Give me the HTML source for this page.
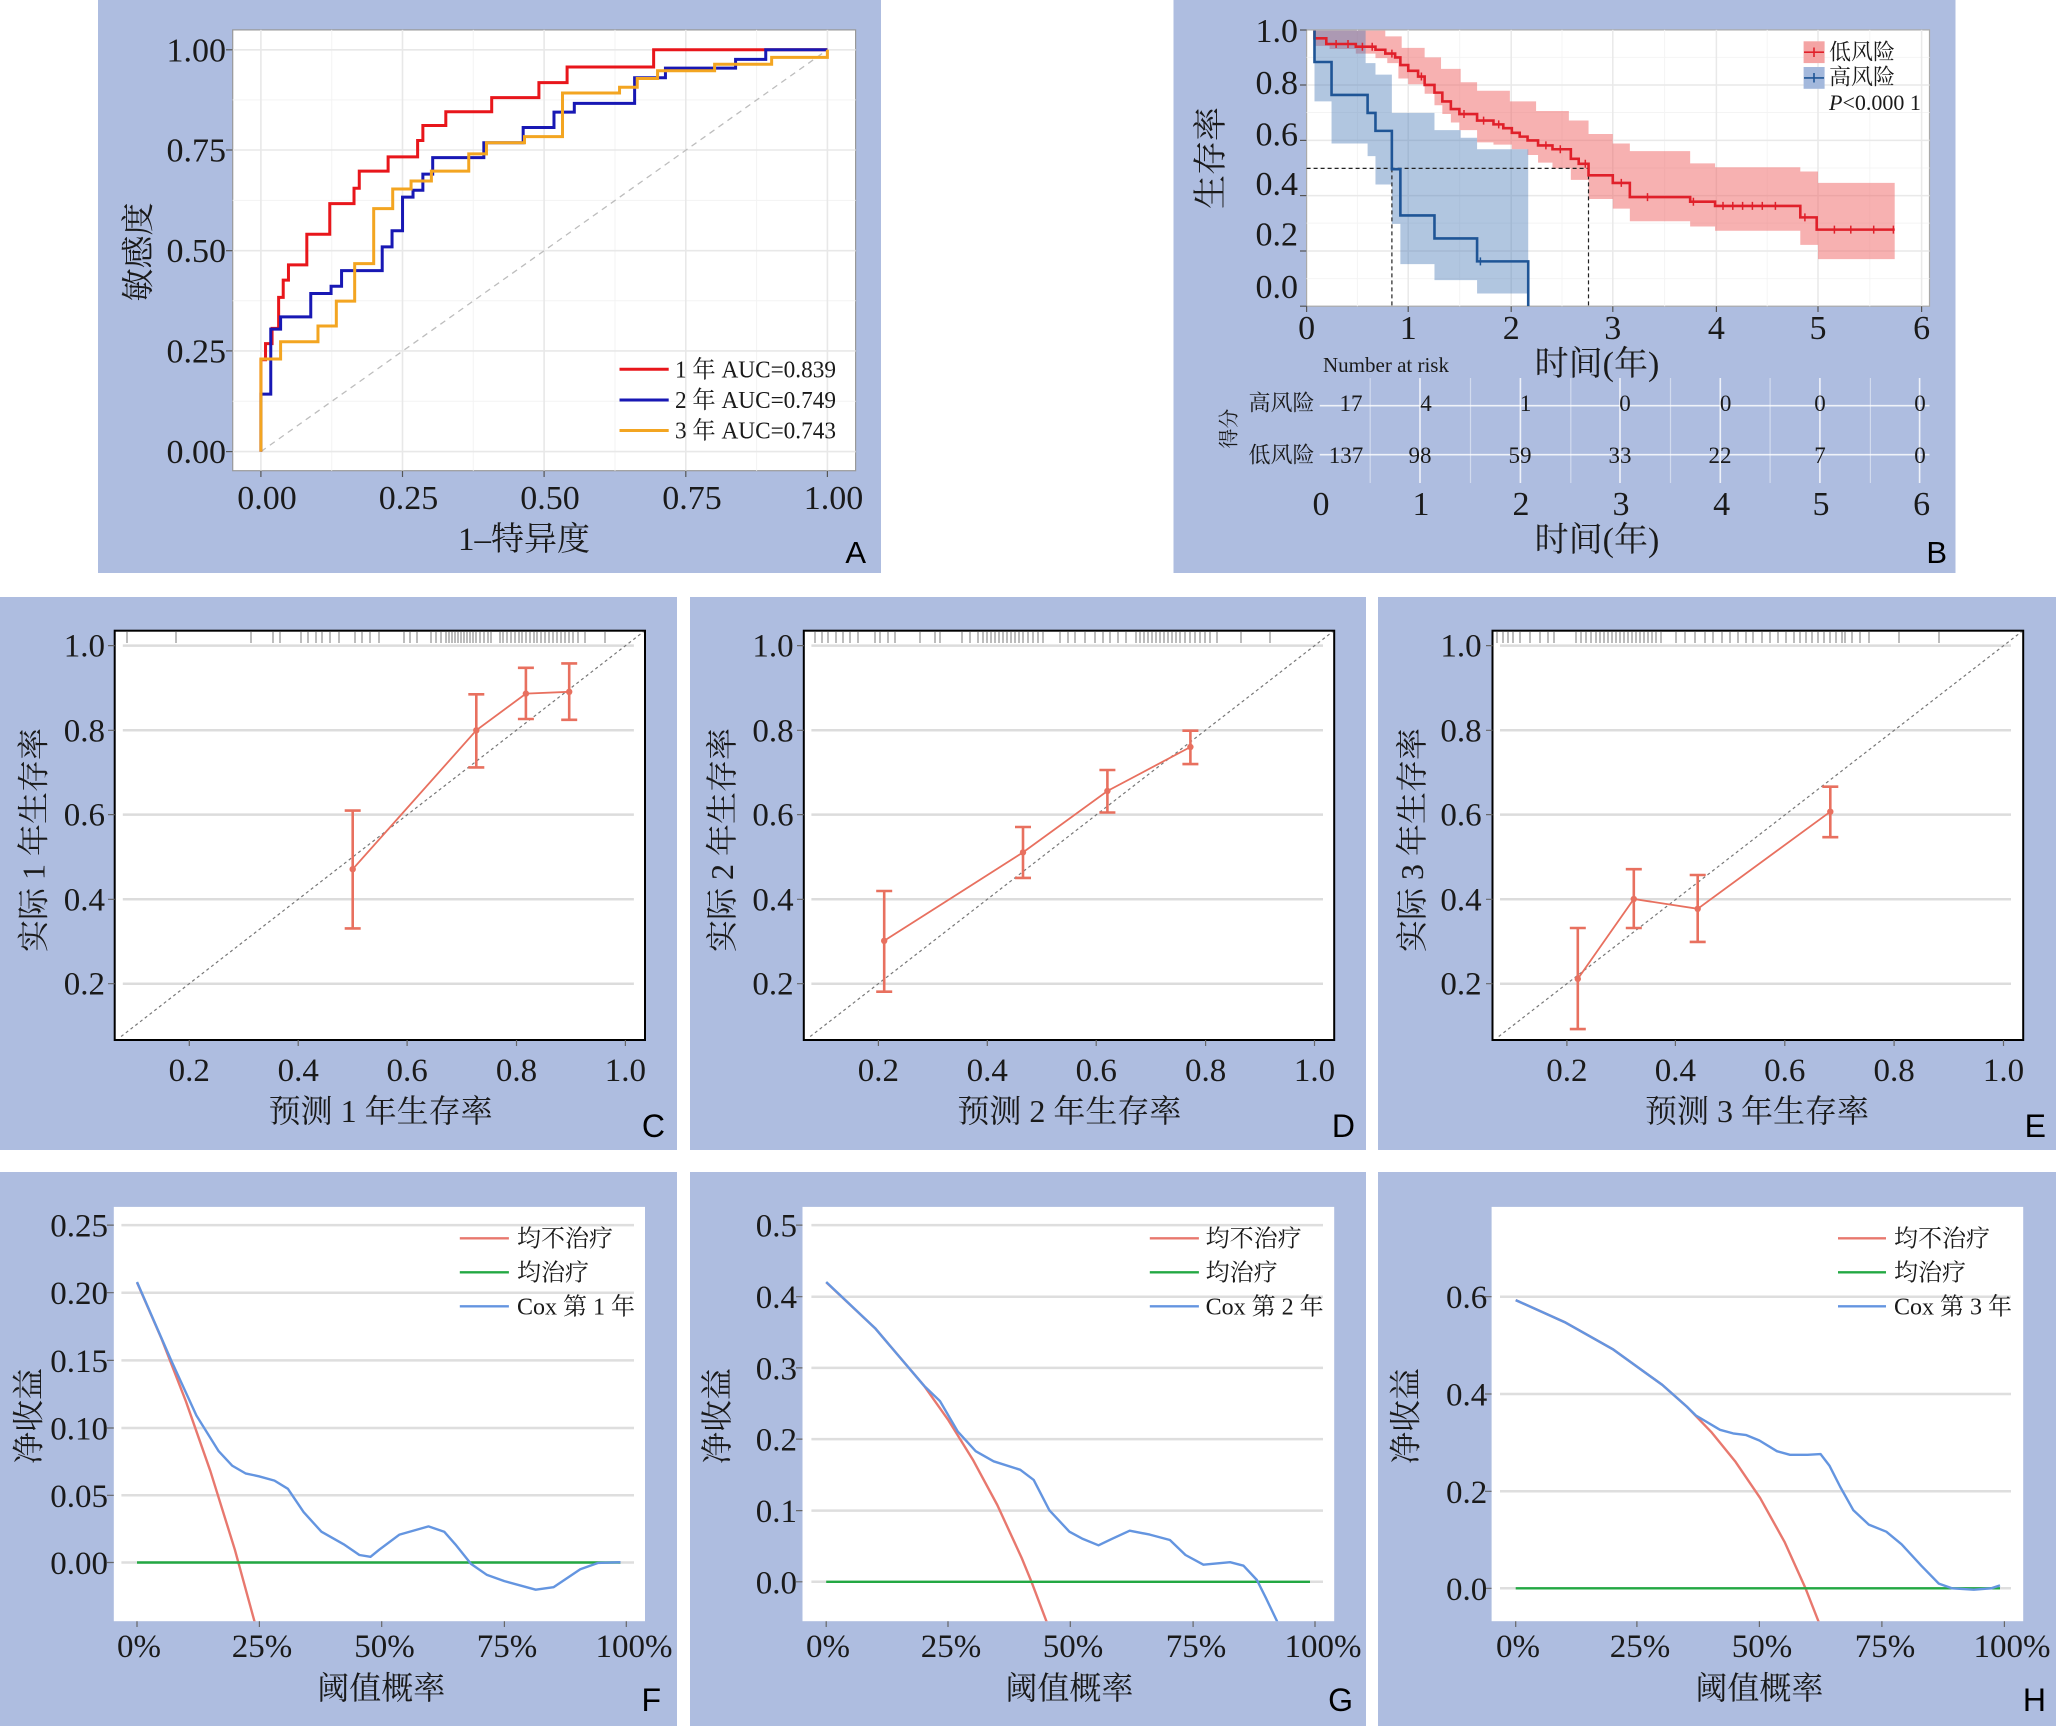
<!DOCTYPE html>
<html><head><meta charset="utf-8"><style>
html,body{margin:0;padding:0;background:#fff;}
svg{display:block;}
text{font-family:"Liberation Serif","Noto Serif CJK SC",serif;fill:#1a1a1a;}
text.lbl{font-family:"Liberation Sans",sans-serif;fill:#000;}
.ns{vector-effect:non-scaling-stroke;}
</style></head><body>
<svg width="2056" height="1726" viewBox="0 0 2056 1726" xmlns="http://www.w3.org/2000/svg">
<defs>
<clipPath id="cF"><rect x="113.8" y="1206.9" width="531.2" height="414.3"/></clipPath>
<clipPath id="cG"><rect x="802.5" y="1206.9" width="531.7" height="414.3"/></clipPath>
<clipPath id="cH"><rect x="1491.6" y="1206.9" width="531.6" height="414.3"/></clipPath>
</defs>
<!-- backgrounds -->
<g fill="#aebde0">
<rect x="98" y="0" width="783" height="573"/>
<rect x="1173.5" y="0" width="782" height="573"/>
<rect x="0" y="597" width="677" height="553"/>
<rect x="690" y="597" width="676" height="553"/>
<rect x="1378" y="597" width="678" height="553"/>
<rect x="0" y="1172" width="677" height="554"/>
<rect x="690" y="1172" width="676" height="554"/>
<rect x="1378" y="1172" width="678" height="554"/>
</g>

<!-- ================= Panel A ================= -->
<rect x="232.7" y="29.9" width="622.9" height="440.8" fill="#fff" stroke="#999" stroke-width="1.2"/>
<g stroke="#f3f3f3" stroke-width="1">
<line x1="232.7" x2="855.6" y1="99.9" y2="99.9"/><line x1="232.7" x2="855.6" y1="200.4" y2="200.4"/>
<line x1="232.7" x2="855.6" y1="300.8" y2="300.8"/><line x1="232.7" x2="855.6" y1="401.3" y2="401.3"/>
<line y1="29.9" y2="470.7" x1="331.7" x2="331.7"/><line y1="29.9" y2="470.7" x1="473.3" x2="473.3"/>
<line y1="29.9" y2="470.7" x1="615" x2="615"/><line y1="29.9" y2="470.7" x1="756.6" x2="756.6"/>
</g>
<g stroke="#e8e8e8" stroke-width="1.6">
<line x1="232.7" x2="855.6" y1="49.8" y2="49.8"/><line x1="232.7" x2="855.6" y1="150" y2="150"/>
<line x1="232.7" x2="855.6" y1="250.7" y2="250.7"/><line x1="232.7" x2="855.6" y1="350.9" y2="350.9"/>
<line x1="232.7" x2="855.6" y1="451.6" y2="451.6"/>
<line y1="29.9" y2="470.7" x1="260.9" x2="260.9"/><line y1="29.9" y2="470.7" x1="402.5" x2="402.5"/>
<line y1="29.9" y2="470.7" x1="544.1" x2="544.1"/><line y1="29.9" y2="470.7" x1="685.8" x2="685.8"/>
<line y1="29.9" y2="470.7" x1="827.4" x2="827.4"/>
</g>
<g stroke="#555" stroke-width="1.2">
<line x1="226" x2="232.7" y1="49.8" y2="49.8"/><line x1="226" x2="232.7" y1="150" y2="150"/>
<line x1="226" x2="232.7" y1="250.7" y2="250.7"/><line x1="226" x2="232.7" y1="350.9" y2="350.9"/>
<line x1="226" x2="232.7" y1="451.6" y2="451.6"/>
<line y1="470.7" y2="477" x1="260.9" x2="260.9"/><line y1="470.7" y2="477" x1="402.5" x2="402.5"/>
<line y1="470.7" y2="477" x1="544.1" x2="544.1"/><line y1="470.7" y2="477" x1="685.8" x2="685.8"/>
<line y1="470.7" y2="477" x1="827.4" x2="827.4"/>
</g>
<line x1="260.9" y1="451.6" x2="827.4" y2="49.8" stroke="#bdbdbd" stroke-width="1.3" stroke-dasharray="6 5"/>
<g transform="scale(0.6556 0.3827)" fill="none" stroke-width="3" stroke-linejoin="miter">
<path class="ns" stroke="#e8161b" d="M398,1180 V940 H405 V898 H415 V858 H425 V777 H432 V732 H440 V692 H468 V612 H503 V532 H540 V492 H548 V447 H592 V410 H637 V367 H645 V328 H680 V292 H750 V255 H822 V216 H865 V175 H997 V130 H1262"/>
<path class="ns" stroke="#1818b4" d="M398,1180 V1030 H413 V860 H428 V828 H474 V767 H505 V748 H521 V707 H583 V645 H598 V603 H614 V515 H630 V497 H645 V455 H660 V412 H738 V373 H798 V333 H845 V293 H876 V270 H968 V203 H1015 V178 H1122 V155 H1168 V130 H1262"/>
<path class="ns" stroke="#f3a521" d="M398,1180 V938 H428 V893 H485 V852 H513 V787 H541 V689 H570 V545 H599 V494 H627 V473 H658 V447 H715 V402 H742 V373 H800 V357 H858 V243 H945 V228 H972 V205 H1003 V185 H1090 V168 H1177 V150 H1262 V130"/>
</g>
<g font-size="34" text-anchor="end">
<text x="226" y="61.3">1.00</text><text x="226" y="161.5">0.75</text><text x="226" y="262.2">0.50</text>
<text x="226" y="362.4">0.25</text><text x="226" y="463.1">0.00</text>
</g>
<g font-size="34" text-anchor="middle">
<text x="267" y="509">0.00</text><text x="408.5" y="509">0.25</text><text x="550" y="509">0.50</text>
<text x="692" y="509">0.75</text><text x="833.5" y="509">1.00</text>
</g>
<text x="524" y="550" font-size="33" text-anchor="middle">1–特异度</text>
<text transform="translate(149.5 252) rotate(-90)" font-size="33" text-anchor="middle">敏感度</text>
<g stroke-width="3">
<line x1="619.5" x2="668.7" y1="369.3" y2="369.3" stroke="#e8161b"/>
<line x1="619.5" x2="668.7" y1="400" y2="400" stroke="#1818b4"/>
<line x1="619.5" x2="668.7" y1="430.5" y2="430.5" stroke="#f3a521"/>
</g>
<g font-size="24">
<text x="675" y="377.5" textLength="161" lengthAdjust="spacingAndGlyphs">1 年 AUC=0.839</text>
<text x="675" y="408.2" textLength="161" lengthAdjust="spacingAndGlyphs">2 年 AUC=0.749</text>
<text x="675" y="438.7" textLength="161" lengthAdjust="spacingAndGlyphs">3 年 AUC=0.743</text>
</g>
<text class="lbl" x="866" y="563" font-size="31" text-anchor="end">A</text>

<!-- ================= Panel B ================= -->
<rect x="1306.6" y="29.9" width="622.9" height="276.3" fill="#fff" stroke="#aaa" stroke-width="1.2"/>
<g stroke="#f4f4f4" stroke-width="1">
<line x1="1306.6" x2="1929.5" y1="57.4" y2="57.4"/><line x1="1306.6" x2="1929.5" y1="112.5" y2="112.5"/>
<line x1="1306.6" x2="1929.5" y1="168" y2="168"/><line x1="1306.6" x2="1929.5" y1="223.1" y2="223.1"/>
<line x1="1306.6" x2="1929.5" y1="278.6" y2="278.6"/>
<line y1="29.9" y2="306.2" x1="1357.4" x2="1357.4"/><line y1="29.9" y2="306.2" x1="1459.7" x2="1459.7"/>
<line y1="29.9" y2="306.2" x1="1562" x2="1562"/><line y1="29.9" y2="306.2" x1="1664.6" x2="1664.6"/>
<line y1="29.9" y2="306.2" x1="1767.2" x2="1767.2"/><line y1="29.9" y2="306.2" x1="1869.8" x2="1869.8"/>
</g>
<g stroke="#e9e9e9" stroke-width="1.5">
<line x1="1306.6" x2="1929.5" y1="85" y2="85"/><line x1="1306.6" x2="1929.5" y1="140.4" y2="140.4"/>
<line x1="1306.6" x2="1929.5" y1="195.6" y2="195.6"/><line x1="1306.6" x2="1929.5" y1="251" y2="251"/>
<line y1="29.9" y2="306.2" x1="1408.2" x2="1408.2"/><line y1="29.9" y2="306.2" x1="1511.2" x2="1511.2"/>
<line y1="29.9" y2="306.2" x1="1612.8" x2="1612.8"/><line y1="29.9" y2="306.2" x1="1716.4" x2="1716.4"/>
<line y1="29.9" y2="306.2" x1="1818" x2="1818" /><line y1="29.9" y2="306.2" x1="1921.6" x2="1921.6"/>
</g>
<g transform="translate(1028 0) scale(0.6556 0.3827)">
<path fill="#f06464" fill-opacity="0.5" d="M437,80 H545 V95 H570 V125 H605 V150 H630 V180 H660 V215 H685 V237 H735 V265 H775 V290 H825 V315 H855 V350 H892 V375 H918 V395 H1010 V427 H1048 V437 H1178 V448 H1205 V478 H1322 V677 H1205 V640 H1178 V603 H1048 V592 H1010 V578 H918 V545 H892 V520 H855 V470 H828 V440 H800 V425 H778 V405 H762 V390 H738 V378 H710 V372 H685 V340 H658 V320 H645 V298 H632 V275 H620 V245 H605 V220 H580 V205 H565 V165 H548 V152 H530 V140 H500 V128 H460 V120 H437 Z"/>
<path fill="#4678b4" fill-opacity="0.42" d="M437,80 H515 V165 H530 V195 H555 V295 H620 V340 H660 V360 H685 V390 H763 V767 H685 V732 H620 V690 H568 V585 H555 V482 H530 V408 H518 V375 H463 V265 H437 Z"/>
</g>
<g stroke="#222" stroke-width="1.2" stroke-dasharray="4 3" fill="none">
<line x1="1306.6" y1="168.4" x2="1588.5" y2="168.4"/>
<line x1="1391.9" y1="168.4" x2="1391.9" y2="306.2"/>
<line x1="1588.5" y1="168.4" x2="1588.5" y2="306.2"/>
</g>
<g transform="translate(1028 0) scale(0.6556 0.3827)" fill="none" stroke-width="2.6">
<path class="ns" stroke="#e0202a" d="M437,80 V100 H455 V115 H500 V122 H530 V130 H545 V140 H560 V150 H568 V170 H580 V185 H595 V200 H605 V222 H620 V242 H632 V265 H645 V285 H658 V298 H685 V315 H710 V325 H725 V335 H738 V347 H750 V357 H762 V367 H778 V380 H800 V390 H828 V415 H840 V428 H855 V458 H892 V478 H918 V515 H1010 V527 H1048 V538 H1178 V568 H1203 V600 H1322"/>
<path class="ns" stroke="#1f5596" d="M437,80 V162 H463 V248 H518 V295 H530 V342 H555 V442 H568 V563 H620 V623 H685 V683 H763 V800"/>
</g>
<g stroke="#e0202a" stroke-width="1.5">
<path d="M1336.1,40 V48 M1348,40 V48 M1362.4,42.7 V50.7 M1372.2,42.7 V50.7 M1391.9,49.6 V57.6 M1421.4,72.5 V80.5 M1464,110 V118 M1483.6,116.6 V124.6 M1498.7,120.4 V128.4 M1545.9,141.4 V149.4 M1560.3,145.3 V153.3 M1585.3,159.8 V167.8 M1621.3,178.9 V186.9 M1647.5,193.1 V201.1 M1693.4,197.7 V205.7 M1723,201.9 V209.9 M1732.8,201.9 V209.9 M1742.6,201.9 V209.9 M1752.4,201.9 V209.9 M1762.3,201.9 V209.9 M1775.4,201.9 V209.9 M1804.9,213.4 V221.4 M1834.4,225.6 V233.6 M1850.8,225.6 V233.6 M1873.7,225.6 V233.6 M1893.4,225.6 V233.6"/>
</g>
<path d="M1480.4,257.4 V265.4" stroke="#1f5596" stroke-width="1.5"/>
<g stroke="#555" stroke-width="1.2">
<line x1="1300" x2="1306.6" y1="85" y2="85"/><line x1="1300" x2="1306.6" y1="140.4" y2="140.4"/>
<line x1="1300" x2="1306.6" y1="195.6" y2="195.6"/><line x1="1300" x2="1306.6" y1="251" y2="251"/>
<line x1="1300" x2="1306.6" y1="306.2" y2="306.2"/><line x1="1300" x2="1306.6" y1="30" y2="30"/>
<line y1="306.2" y2="312" x1="1306.6" x2="1306.6"/><line y1="306.2" y2="312" x1="1408.2" x2="1408.2"/>
<line y1="306.2" y2="312" x1="1511.2" x2="1511.2"/><line y1="306.2" y2="312" x1="1612.8" x2="1612.8"/>
<line y1="306.2" y2="312" x1="1716.4" x2="1716.4"/><line y1="306.2" y2="312" x1="1818" x2="1818"/>
<line y1="306.2" y2="312" x1="1921.6" x2="1921.6"/>
</g>
<!-- legend B -->
<rect x="1803.6" y="41.3" width="21" height="21.8" fill="#f4a4a4"/>
<rect x="1803.6" y="67" width="21" height="21.8" fill="#a3b8dc"/>
<path d="M1804,52.2 H1824 M1814,47.5 V57" stroke="#e0202a" stroke-width="1.6"/>
<path d="M1804,77.9 H1824 M1814,73 V82.5" stroke="#1f5596" stroke-width="1.6"/>
<g font-size="22">
<text x="1829" y="59.5">低风险</text>
<text x="1829" y="84.5">高风险</text>
<text x="1829" y="110"><tspan font-style="italic">P</tspan>&lt;0.000 1</text>
</g>
<g font-size="34" text-anchor="end">
<text x="1298" y="42">1.0</text><text x="1298" y="94">0.8</text><text x="1298" y="145.5">0.6</text>
<text x="1298" y="195">0.4</text><text x="1298" y="245.7">0.2</text><text x="1298" y="297.8">0.0</text>
</g>
<g font-size="34" text-anchor="middle">
<text x="1306.6" y="339">0</text><text x="1408.2" y="339">1</text><text x="1511.2" y="339">2</text>
<text x="1612.8" y="339">3</text><text x="1716.4" y="339">4</text><text x="1818" y="339">5</text><text x="1921.6" y="339">6</text>
</g>
<text x="1597" y="375" font-size="34" text-anchor="middle">时间(年)</text>
<text transform="translate(1222 158) rotate(-90)" font-size="34" text-anchor="middle">生存率</text>
<!-- risk table -->
<g stroke="#ffffff" stroke-opacity="0.45" stroke-width="1.2">
<line y1="378" y2="483" x1="1370.2" x2="1370.2"/><line y1="378" y2="483" x1="1470.5" x2="1470.5"/>
<line y1="378" y2="483" x1="1570.8" x2="1570.8"/><line y1="378" y2="483" x1="1670.5" x2="1670.5"/>
<line y1="378" y2="483" x1="1770.1" x2="1770.1"/><line y1="378" y2="483" x1="1870.4" x2="1870.4"/>
</g>
<g stroke="#ffffff" stroke-opacity="0.8" stroke-width="1.6">
<line y1="378" y2="483" x1="1420" x2="1420"/><line y1="378" y2="483" x1="1520.4" x2="1520.4"/>
<line y1="378" y2="483" x1="1620" x2="1620"/><line y1="378" y2="483" x1="1720.3" x2="1720.3"/>
<line y1="378" y2="483" x1="1819.9" x2="1819.9"/><line y1="378" y2="483" x1="1919.6" x2="1919.6"/>
<line x1="1319.7" x2="1929.5" y1="405.7" y2="405.7"/><line x1="1319.7" x2="1929.5" y1="454.7" y2="454.7"/>
</g>
<text x="1323" y="372" font-size="21">Number at risk</text>
<g font-size="22" text-anchor="end">
<text x="1314.5" y="410.6">高风险</text>
<text x="1314.5" y="462.6">低风险</text>
</g>
<text transform="translate(1235.5 428.6) rotate(-90)" font-size="20" text-anchor="middle">得分</text>
<g font-size="23" text-anchor="middle">
<text x="1351" y="411">17</text><text x="1426" y="411">4</text><text x="1525.6" y="411">1</text>
<text x="1625" y="411">0</text><text x="1725.6" y="411">0</text><text x="1820" y="411">0</text><text x="1920" y="411">0</text>
<text x="1346" y="463">137</text><text x="1420" y="463">98</text><text x="1520" y="463">59</text>
<text x="1620" y="463">33</text><text x="1720" y="463">22</text><text x="1820" y="463">7</text><text x="1920" y="463">0</text>
</g>
<g font-size="34" text-anchor="middle">
<text x="1321" y="515">0</text><text x="1421" y="515">1</text><text x="1521" y="515">2</text>
<text x="1621" y="515">3</text><text x="1721.6" y="515">4</text><text x="1821" y="515">5</text><text x="1921.6" y="515">6</text>
</g>
<text x="1597" y="551" font-size="34" text-anchor="middle">时间(年)</text>
<text class="lbl" x="1947" y="563" font-size="31" text-anchor="end">B</text>

<!-- ================= Panel C ================= -->
<rect x="114.7" y="630.7" width="530.3" height="409.3" fill="#fff"/>
<g stroke="#dcdcdc" stroke-width="2.5">
<line x1="122.8" x2="633.9" y1="645.6" y2="645.6"/><line x1="122.8" x2="633.9" y1="730.3" y2="730.3"/>
<line x1="122.8" x2="633.9" y1="814.6" y2="814.6"/><line x1="122.8" x2="633.9" y1="899.3" y2="899.3"/>
<line x1="122.8" x2="633.9" y1="983.7" y2="983.7"/>
</g>
<path stroke="#333" stroke-opacity="0.65" stroke-width="1" d="M127,632V643M176,632V643M251,632V643M273,632V643M280,632V643M301,632V643M308,632V643M316,632V643M322,632V643M330,632V643M339,632V643M355,632V643M362,632V643M370,632V643M379,632V643M404,632V643M410,632V643M417,632V643M431,632V643M436,632V643M441,632V643M446,632V643M449,632V643M452,632V643M455,632V643M458,632V643M461,632V643M464,632V643M467,632V643M470,632V643M473,632V643M476,632V643M480,632V643M484,632V643M488,632V643M491,632V643M500,632V643M503,632V643M507,632V643M511,632V643M515,632V643M519,632V643M522,632V643M526,632V643M530,632V643M534,632V643M537,632V643M541,632V643M545,632V643M549,632V643M553,632V643M557,632V643M561,632V643M565,632V643M569,632V643M573,632V643M578,632V643M585,632V643M605,632V643"/>
<line x1="121.1" y1="1036.5" x2="643.5" y2="631.7" stroke="#777" stroke-width="1.2" stroke-dasharray="3 3"/>
<g stroke="#e8705f" fill="none">
<polyline stroke-width="1.8" points="352.7,869.2 476.3,730.3 525.9,693.6 569.2,691.8"/>
<path stroke-width="2.6" d="M352.7,810.6V928.4M344.7,810.6H360.7M344.7,928.4H360.7 M476.3,694.3V767.4M468.3,694.3H484.3M468.3,767.4H484.3 M525.9,667.8V719M517.9,667.8H533.9M517.9,719H533.9 M569.2,663.4V719.8M561.2,663.4H577.2M561.2,719.8H577.2"/>
</g>
<g fill="#e8705f"><circle cx="352.7" cy="869.2" r="3.2"/><circle cx="476.3" cy="730.3" r="3.2"/><circle cx="525.9" cy="693.6" r="3.2"/><circle cx="569.2" cy="691.8" r="3.2"/></g>
<rect x="114.7" y="630.7" width="530.3" height="409.3" fill="none" stroke="#000" stroke-width="2"/>
<g stroke="#666" stroke-width="1.2">
<path d="M108,645.6H114.7M108,730.3H114.7M108,814.6H114.7M108,899.3H114.7M108,983.7H114.7 M189.3,1040V1046M298.2,1040V1046M407.1,1040V1046M516.5,1040V1046M625.4,1040V1046"/>
</g>
<g font-size="33" text-anchor="end">
<text x="105" y="656.6">1.0</text><text x="105" y="741.3">0.8</text><text x="105" y="825.6">0.6</text>
<text x="105" y="910.3">0.4</text><text x="105" y="994.7">0.2</text>
</g>
<g font-size="33" text-anchor="middle">
<text x="189.3" y="1081">0.2</text><text x="298.2" y="1081">0.4</text><text x="407.1" y="1081">0.6</text>
<text x="516.5" y="1081">0.8</text><text x="625.4" y="1081">1.0</text>
</g>
<text x="380.6" y="1122" font-size="32" text-anchor="middle">预测 1 年生存率</text>
<text transform="translate(44.5 840) rotate(-90)" font-size="32" text-anchor="middle">实际 1 年生存率</text>
<text class="lbl" x="665" y="1137" font-size="32" text-anchor="end">C</text>

<!-- ================= Panel D ================= -->
<rect x="803.8" y="630.7" width="530.4" height="409.3" fill="#fff"/>
<g stroke="#dcdcdc" stroke-width="2.5">
<line x1="811.4" x2="1323" y1="645.6" y2="645.6"/><line x1="811.4" x2="1323" y1="730.3" y2="730.3"/>
<line x1="811.4" x2="1323" y1="814.6" y2="814.6"/><line x1="811.4" x2="1323" y1="899.3" y2="899.3"/>
<line x1="811.4" x2="1323" y1="983.7" y2="983.7"/>
</g>
<path stroke="#333" stroke-opacity="0.65" stroke-width="1" d="M815,632V643M822,632V643M828,632V643M836,632V643M843,632V643M850,632V643M858,632V643M875,632V643M880,632V643M888,632V643M895,632V643M920,632V643M935,632V643M940,632V643M962,632V643M970,632V643M978,632V643M983,632V643M987,632V643M991,632V643M995,632V643M999,632V643M1003,632V643M1007,632V643M1011,632V643M1015,632V643M1019,632V643M1023,632V643M1028,632V643M1033,632V643M1038,632V643M1043,632V643M1060,632V643M1068,632V643M1075,632V643M1085,632V643M1095,632V643M1103,632V643M1110,632V643M1118,632V643M1126,632V643M1136,632V643M1140,632V643M1144,632V643M1148,632V643M1152,632V643M1156,632V643M1160,632V643M1164,632V643M1168,632V643M1172,632V643M1176,632V643M1180,632V643M1185,632V643M1190,632V643M1195,632V643M1200,632V643M1205,632V643M1210,632V643M1217,632V643M1241,632V643M1270,632V643"/>
<line x1="810.2" y1="1036.5" x2="1332.6" y2="631.7" stroke="#777" stroke-width="1.2" stroke-dasharray="3 3"/>
<g stroke="#e8705f" fill="none">
<polyline stroke-width="1.8" points="884.2,940.8 1023,852.4 1107.4,791 1190.4,747"/>
<path stroke-width="2.6" d="M884.2,891V991.7M876.2,891H892.2M876.2,991.7H892.2 M1023,827V877.9M1015,827H1031M1015,877.9H1031 M1107.4,770V812.5M1099.4,770H1115.4M1099.4,812.5H1115.4 M1190.4,730.7V764.1M1182.4,730.7H1198.4M1182.4,764.1H1198.4"/>
</g>
<g fill="#e8705f"><circle cx="884.2" cy="940.8" r="3.2"/><circle cx="1023" cy="852.4" r="3.2"/><circle cx="1107.4" cy="791" r="3.2"/><circle cx="1190.4" cy="747" r="3.2"/></g>
<rect x="803.8" y="630.7" width="530.4" height="409.3" fill="none" stroke="#000" stroke-width="2"/>
<g stroke="#666" stroke-width="1.2">
<path d="M797,645.6H803.8M797,730.3H803.8M797,814.6H803.8M797,899.3H803.8M797,983.7H803.8 M878.4,1040V1046M987.3,1040V1046M1096.2,1040V1046M1205.6,1040V1046M1314.5,1040V1046"/>
</g>
<g font-size="33" text-anchor="end">
<text x="793.6" y="656.6">1.0</text><text x="793.6" y="741.3">0.8</text><text x="793.6" y="825.6">0.6</text>
<text x="793.6" y="910.3">0.4</text><text x="793.6" y="994.7">0.2</text>
</g>
<g font-size="33" text-anchor="middle">
<text x="878.4" y="1081">0.2</text><text x="987.3" y="1081">0.4</text><text x="1096.2" y="1081">0.6</text>
<text x="1205.6" y="1081">0.8</text><text x="1314.5" y="1081">1.0</text>
</g>
<text x="1069.4" y="1122" font-size="32" text-anchor="middle">预测 2 年生存率</text>
<text transform="translate(733 840) rotate(-90)" font-size="32" text-anchor="middle">实际 2 年生存率</text>
<text class="lbl" x="1355" y="1137" font-size="32" text-anchor="end">D</text>

<!-- ================= Panel E ================= -->
<rect x="1492.5" y="630.7" width="530.7" height="409.3" fill="#fff"/>
<g stroke="#dcdcdc" stroke-width="2.5">
<line x1="1500" x2="2011" y1="645.6" y2="645.6"/><line x1="1500" x2="2011" y1="730.3" y2="730.3"/>
<line x1="1500" x2="2011" y1="814.6" y2="814.6"/><line x1="1500" x2="2011" y1="899.3" y2="899.3"/>
<line x1="1500" x2="2011" y1="983.7" y2="983.7"/>
</g>
<path stroke="#333" stroke-opacity="0.65" stroke-width="1" d="M1497,632V643M1503,632V643M1508,632V643M1513,632V643M1520,632V643M1530,632V643M1540,632V643M1548,632V643M1554,632V643M1576,632V643M1581,632V643M1586,632V643M1591,632V643M1596,632V643M1600,632V643M1604,632V643M1608,632V643M1612,632V643M1616,632V643M1620,632V643M1624,632V643M1628,632V643M1632,632V643M1636,632V643M1640,632V643M1644,632V643M1648,632V643M1652,632V643M1656,632V643M1661,632V643M1676,632V643M1685,632V643M1695,632V643M1705,632V643M1713,632V643M1722,632V643M1730,632V643M1738,632V643M1746,632V643M1753,632V643M1762,632V643M1770,632V643M1778,632V643M1786,632V643M1794,632V643M1800,632V643M1806,632V643M1812,632V643M1818,632V643M1824,632V643M1830,632V643M1836,632V643M1842,632V643M1845,632V643M1852,632V643M1860,632V643M1869,632V643M1899,632V643M1939,632V643"/>
<line x1="1498.7" y1="1036.5" x2="2021.6" y2="631.7" stroke="#777" stroke-width="1.2" stroke-dasharray="3 3"/>
<g stroke="#e8705f" fill="none">
<polyline stroke-width="1.8" points="1577.8,978.9 1633.8,899 1697.7,908.8 1830.3,811.7"/>
<path stroke-width="2.6" d="M1577.8,928V1029.1M1569.8,928H1585.8M1569.8,1029.1H1585.8 M1633.8,869.2V928M1625.8,869.2H1641.8M1625.8,928H1641.8 M1697.7,875V941.9M1689.7,875H1705.7M1689.7,941.9H1705.7 M1830.3,786.7V837.2M1822.3,786.7H1838.3M1822.3,837.2H1838.3"/>
</g>
<g fill="#e8705f"><circle cx="1577.8" cy="978.9" r="3.2"/><circle cx="1633.8" cy="899" r="3.2"/><circle cx="1697.7" cy="908.8" r="3.2"/><circle cx="1830.3" cy="811.7" r="3.2"/></g>
<rect x="1492.5" y="630.7" width="530.7" height="409.3" fill="none" stroke="#000" stroke-width="2"/>
<g stroke="#666" stroke-width="1.2">
<path d="M1486,645.6H1492.5M1486,730.3H1492.5M1486,814.6H1492.5M1486,899.3H1492.5M1486,983.7H1492.5 M1566.9,1040V1046M1675.4,1040V1046M1784.8,1040V1046M1894.1,1040V1046M2003.5,1040V1046"/>
</g>
<g font-size="33" text-anchor="end">
<text x="1481.6" y="656.6">1.0</text><text x="1481.6" y="741.3">0.8</text><text x="1481.6" y="825.6">0.6</text>
<text x="1481.6" y="910.3">0.4</text><text x="1481.6" y="994.7">0.2</text>
</g>
<g font-size="33" text-anchor="middle">
<text x="1566.9" y="1081">0.2</text><text x="1675.4" y="1081">0.4</text><text x="1784.8" y="1081">0.6</text>
<text x="1894.1" y="1081">0.8</text><text x="2003.5" y="1081">1.0</text>
</g>
<text x="1757" y="1122" font-size="32" text-anchor="middle">预测 3 年生存率</text>
<text transform="translate(1423 840) rotate(-90)" font-size="32" text-anchor="middle">实际 3 年生存率</text>
<text class="lbl" x="2046" y="1137" font-size="32" text-anchor="end">E</text>

<!-- ================= Panel F ================= -->
<rect x="113.8" y="1206.9" width="531.2" height="414.3" fill="#fff"/>
<g stroke="#dedede" stroke-width="2.5">
<line x1="121.4" x2="634" y1="1225.1" y2="1225.1"/><line x1="121.4" x2="634" y1="1292.7" y2="1292.7"/>
<line x1="121.4" x2="634" y1="1360.4" y2="1360.4"/><line x1="121.4" x2="634" y1="1428" y2="1428"/>
<line x1="121.4" x2="634" y1="1495.3" y2="1495.3"/><line x1="121.4" x2="634" y1="1562.5" y2="1562.5"/>
</g>
<g fill="none" stroke-width="2.4" stroke-linejoin="round">
<polyline clip-path="url(#cF)" stroke="#e8786e" points="137,1282.4 161.5,1338.7 185.9,1401.3 210.4,1471.2 234.9,1549.8 259.3,1639"/>
<line x1="137" x2="620.5" y1="1562.5" y2="1562.5" stroke="#23a843"/>
<polyline stroke="#6495e0" points="137,1282 171.9,1362 196.4,1415.5 218.7,1451.2 232.1,1465.6 245.5,1473.4 258.9,1476.3 274.5,1480.6 287.9,1488.8 303.6,1512.1 321.4,1531.7 343.7,1544.3 359.4,1555 370.5,1556.8 379.4,1549.6 399.5,1534.6 428.5,1526.4 444.2,1531.7 455.3,1544.3 471,1563.9 486.6,1574.7 504.4,1581.1 535.7,1589.7 553.5,1587.2 580.3,1569.3 598.2,1562.9 620.5,1562.2"/>
</g>
<g stroke="#666" stroke-width="1.2">
<path d="M107,1225.1H113.8M107,1292.7H113.8M107,1360.4H113.8M107,1428H113.8M107,1495.3H113.8M107,1562.5H113.8 M137,1621.2V1627M259.4,1621.2V1627M381.7,1621.2V1627M504.4,1621.2V1627M626.3,1621.2V1627"/>
</g>
<g stroke-width="2.4">
<line x1="459.8" x2="508.9" y1="1238.3" y2="1238.3" stroke="#e8786e"/>
<line x1="459.8" x2="508.9" y1="1272.3" y2="1272.3" stroke="#23a843"/>
<line x1="459.8" x2="508.9" y1="1306.3" y2="1306.3" stroke="#6495e0"/>
</g>
<g font-size="24">
<text x="517" y="1246.5">均不治疗</text><text x="517" y="1280.5">均治疗</text><text x="517" y="1314.5">Cox 第 1 年</text>
</g>
<g font-size="33" text-anchor="end">
<text x="108" y="1236.6">0.25</text><text x="108" y="1304.2">0.20</text><text x="108" y="1371.9">0.15</text>
<text x="108" y="1439.5">0.10</text><text x="108" y="1506.8">0.05</text><text x="108" y="1574">0.00</text>
</g>
<g font-size="33" text-anchor="middle">
<text x="139" y="1657">0%</text><text x="262" y="1657">25%</text><text x="384.5" y="1657">50%</text>
<text x="507" y="1657">75%</text><text x="634" y="1657">100%</text>
</g>
<text x="381.3" y="1699" font-size="32" text-anchor="middle">阈值概率</text>
<text transform="translate(39.5 1416) rotate(-90)" font-size="32" text-anchor="middle">净收益</text>
<text class="lbl" x="661" y="1711" font-size="32" text-anchor="end">F</text>

<!-- ================= Panel G ================= -->
<rect x="802.5" y="1206.9" width="531.7" height="414.3" fill="#fff"/>
<g stroke="#dedede" stroke-width="2.5">
<line x1="811.4" x2="1323" y1="1225.1" y2="1225.1"/><line x1="811.4" x2="1323" y1="1296.7" y2="1296.7"/>
<line x1="811.4" x2="1323" y1="1367.9" y2="1367.9"/><line x1="811.4" x2="1323" y1="1439.1" y2="1439.1"/>
<line x1="811.4" x2="1323" y1="1510.6" y2="1510.6"/><line x1="811.4" x2="1323" y1="1581.8" y2="1581.8"/>
</g>
<g fill="none" stroke-width="2.4" stroke-linejoin="round">
<polyline clip-path="url(#cG)" stroke="#e8786e" points="826.2,1282.3 875.1,1328.2 924,1385.7 948.4,1420.2 972.8,1459.6 997.3,1505 1021.7,1558 1031.5,1581.8 1046.2,1620.7 1051,1634"/>
<line x1="826.2" x2="1310" y1="1581.8" y2="1581.8" stroke="#23a843"/>
<polyline clip-path="url(#cG)" stroke="#6495e0" points="826.2,1282 875.1,1328.2 924,1385.7 940,1401.1 957.8,1431.6 975.7,1451.2 993.6,1461.3 1020.3,1469.8 1033.7,1479.9 1049.4,1510.3 1069.4,1531.7 1082.8,1538.9 1098.5,1545.3 1111.8,1538.9 1129.7,1530.7 1149.8,1534.6 1169.9,1540 1185.5,1555 1203.4,1564.7 1230.1,1562.2 1243.5,1565.7 1256.9,1580 1265.9,1597.9 1277,1621.2 1280,1630"/>
</g>
<g stroke="#666" stroke-width="1.2">
<path d="M796,1225.1H802.5M796,1296.7H802.5M796,1367.9H802.5M796,1439.1H802.5M796,1510.6H802.5M796,1581.8H802.5 M826.2,1621.2V1627M948,1621.2V1627M1070.3,1621.2V1627M1193.1,1621.2V1627M1315,1621.2V1627"/>
</g>
<g stroke-width="2.4">
<line x1="1149.8" x2="1198.9" y1="1238.3" y2="1238.3" stroke="#e8786e"/>
<line x1="1149.8" x2="1198.9" y1="1272.3" y2="1272.3" stroke="#23a843"/>
<line x1="1149.8" x2="1198.9" y1="1306.3" y2="1306.3" stroke="#6495e0"/>
</g>
<g font-size="24">
<text x="1205.6" y="1246.5">均不治疗</text><text x="1205.6" y="1280.5">均治疗</text><text x="1205.6" y="1314.5">Cox 第 2 年</text>
</g>
<g font-size="33" text-anchor="end">
<text x="797" y="1236.6">0.5</text><text x="797" y="1308.2">0.4</text><text x="797" y="1379.4">0.3</text>
<text x="797" y="1450.6">0.2</text><text x="797" y="1522.1">0.1</text><text x="797" y="1593.3">0.0</text>
</g>
<g font-size="33" text-anchor="middle">
<text x="828" y="1657">0%</text><text x="951" y="1657">25%</text><text x="1073" y="1657">50%</text>
<text x="1196" y="1657">75%</text><text x="1323" y="1657">100%</text>
</g>
<text x="1069.4" y="1699" font-size="32" text-anchor="middle">阈值概率</text>
<text transform="translate(728 1416) rotate(-90)" font-size="32" text-anchor="middle">净收益</text>
<text class="lbl" x="1353" y="1711" font-size="32" text-anchor="end">G</text>

<!-- ================= Panel H ================= -->
<rect x="1491.6" y="1206.9" width="531.6" height="414.3" fill="#fff"/>
<g stroke="#dedede" stroke-width="2.5">
<line x1="1500" x2="2011" y1="1296.7" y2="1296.7"/><line x1="1500" x2="2011" y1="1394" y2="1394"/>
<line x1="1500" x2="2011" y1="1491.3" y2="1491.3"/><line x1="1500" x2="2011" y1="1588.3" y2="1588.3"/>
</g>
<g fill="none" stroke-width="2.4" stroke-linejoin="round">
<polyline clip-path="url(#cH)" stroke="#e8786e" points="1515.7,1300.1 1564.6,1322.1 1613.4,1349.6 1662.3,1384.9 1686.8,1406.6 1711.2,1431.9 1735.6,1461.9 1760.1,1497.9 1784.5,1541.8 1805.5,1588.3 1818.7,1621.9 1821,1630"/>
<line x1="1515.7" x2="2000" y1="1588.3" y2="1588.3" stroke="#23a843"/>
<polyline stroke="#6495e0" points="1515.7,1300.1 1564.6,1322.1 1613.4,1349.6 1662.3,1384.9 1686.8,1406.6 1695.9,1415.5 1720,1429.8 1733.1,1433.4 1746.3,1435.1 1759.4,1440.5 1776.9,1451.2 1790,1454.8 1807.5,1454.8 1820.6,1454.1 1829.4,1465.6 1840.3,1487 1853.4,1510.3 1868.8,1524.6 1886.3,1531.7 1901.6,1544.3 1921.3,1565.7 1938.8,1583.6 1951.9,1588.3 1973.8,1589.7 1991.3,1588.3 2000,1585.4"/>
</g>
<g stroke="#666" stroke-width="1.2">
<path d="M1485,1296.7H1491.6M1485,1394H1491.6M1485,1491.3H1491.6M1485,1588.3H1491.6 M1515.7,1621.2V1627M1636.9,1621.2V1627M1759.4,1621.2V1627M1881.9,1621.2V1627M2004.4,1621.2V1627"/>
</g>
<g stroke-width="2.4">
<line x1="1838" x2="1886" y1="1238.3" y2="1238.3" stroke="#e8786e"/>
<line x1="1838" x2="1886" y1="1272.3" y2="1272.3" stroke="#23a843"/>
<line x1="1838" x2="1886" y1="1306.3" y2="1306.3" stroke="#6495e0"/>
</g>
<g font-size="24">
<text x="1894" y="1246.5">均不治疗</text><text x="1894" y="1280.5">均治疗</text><text x="1894" y="1314.5">Cox 第 3 年</text>
</g>
<g font-size="33" text-anchor="end">
<text x="1487.3" y="1308.2">0.6</text><text x="1487.3" y="1405.5">0.4</text>
<text x="1487.3" y="1502.8">0.2</text><text x="1487.3" y="1599.8">0.0</text>
</g>
<g font-size="33" text-anchor="middle">
<text x="1518" y="1657">0%</text><text x="1640" y="1657">25%</text><text x="1762" y="1657">50%</text>
<text x="1885" y="1657">75%</text><text x="2012" y="1657">100%</text>
</g>
<text x="1759.4" y="1699" font-size="32" text-anchor="middle">阈值概率</text>
<text transform="translate(1416.5 1416) rotate(-90)" font-size="32" text-anchor="middle">净收益</text>
<text class="lbl" x="2046" y="1711" font-size="32" text-anchor="end">H</text>
</svg>
</body></html>
